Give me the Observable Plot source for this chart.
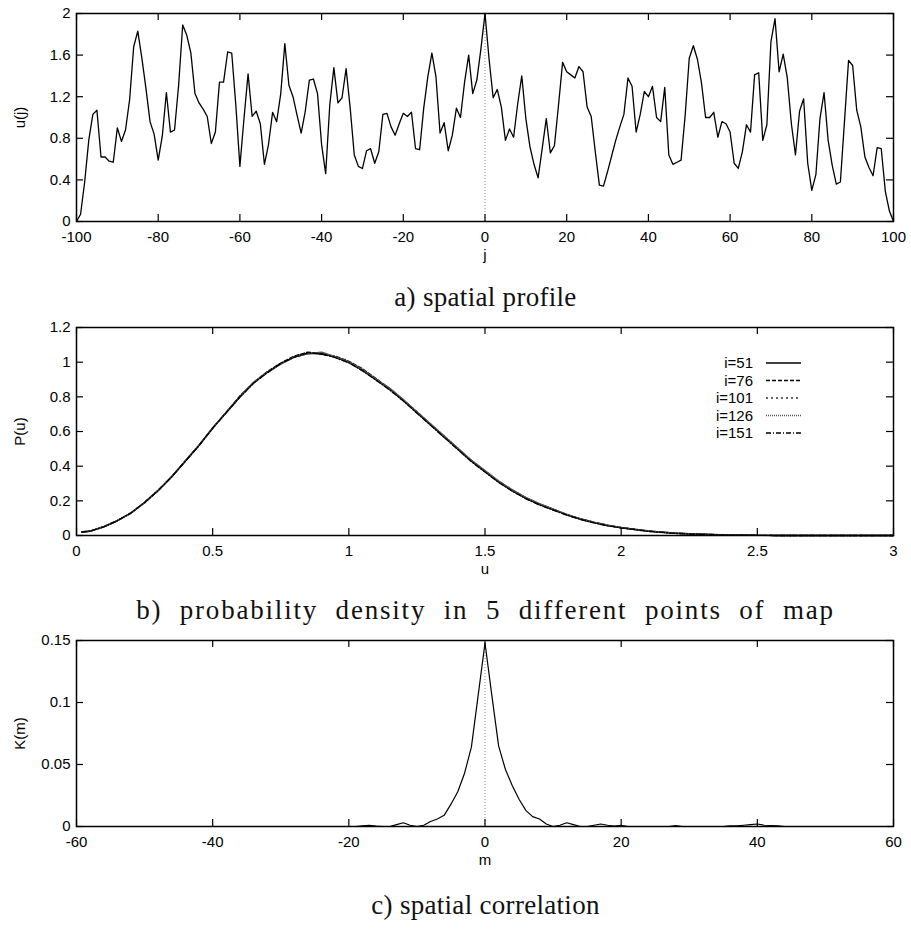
<!DOCTYPE html>
<html>
<head>
<meta charset="utf-8">
<script src="https://cdn.jsdelivr.net/npm/d3@7"></script>
<script src="https://cdn.jsdelivr.net/npm/@observablehq/plot@0.6"></script>
<style>
  html, body { margin: 0; padding: 0; background: white; }
  #wrap { position: relative; width: 911px; height: 942px; background: white; }
  .panel { position: absolute; left: 0; }
  .cap { position: absolute; left: 30px; width: 911px; text-align: center;
         font-family: "Liberation Serif", "DejaVu Serif", serif; font-size: 27px;
         line-height: 32px; color: #111; letter-spacing: 0.3px; white-space: nowrap; }
  .cap.wide { letter-spacing: 1.8px; word-spacing: 9px; }
</style>
</head>
<body>
<div id="wrap">
  <div id="pa" class="panel" style="top:0px"></div>
  <div class="cap" style="top:281px">a) spatial profile</div>
  <div id="pb" class="panel" style="top:315px"></div>
  <div class="cap wide" style="top:594px">b) probability density in 5 different points of map</div>
  <div id="pc" class="panel" style="top:628px"></div>
  <div class="cap" style="top:889px">c) spatial correlation</div>
</div>
<script>
// ---------- Panel a: spatial profile ----------
const jValues = d3.range(-100, 101);
const uValues = [
  0, 0.07, 0.38, 0.78, 1.03, 1.07, 0.62, 0.62, 0.58, 0.57,
  0.90, 0.77, 0.88, 1.17, 1.68, 1.83, 1.57, 1.28, 0.96, 0.84,
  0.59, 0.82, 1.24, 0.86, 0.88, 1.31, 1.89, 1.79, 1.62, 1.23,
  1.14, 1.08, 1.01, 0.75, 0.86, 1.34, 1.34, 1.63, 1.62, 1.12,
  0.53, 0.99, 1.42, 1.01, 1.06, 0.94, 0.55, 0.74, 1.05, 0.96,
  1.23, 1.71, 1.31, 1.20, 1.02, 0.85, 1.06, 1.36, 1.37, 1.23,
  0.74, 0.46, 1.12, 1.48, 1.14, 1.19, 1.47, 1.09, 0.64, 0.53,
  0.51, 0.68, 0.70, 0.56, 0.67, 1.03, 1.04, 0.91, 0.83, 0.94,
  1.04, 1.01, 1.05, 0.70, 0.69, 1.09, 1.39, 1.62, 1.39, 0.85,
  0.95, 0.68, 0.83, 1.09, 1.00, 1.34, 1.60, 1.23, 1.36, 1.66,
  2.00,
  1.56, 1.19, 1.27, 1.10, 0.78, 0.89, 0.81, 1.13, 1.40, 0.99,
  0.72, 0.55, 0.42, 0.70, 0.99, 0.66, 0.73, 1.12, 1.53, 1.44,
  1.41, 1.38, 1.49, 1.44, 1.10, 1.01, 0.67, 0.35, 0.34, 0.48,
  0.63, 0.78, 0.91, 1.03, 1.38, 1.30, 0.86, 1.03, 1.25, 1.20,
  1.30, 1.00, 0.96, 1.29, 0.64, 0.55, 0.57, 0.59, 1.02, 1.57,
  1.69, 1.56, 1.33, 1.00, 1.00, 1.05, 0.81, 0.96, 0.94, 0.86,
  0.56, 0.51, 0.67, 0.93, 0.86, 1.41, 1.43, 0.78, 0.93, 1.73,
  1.95, 1.44, 1.61, 1.38, 0.94, 0.64, 1.06, 1.18, 0.56, 0.30,
  0.45, 0.99, 1.24, 0.78, 0.54, 0.36, 0.38, 0.96, 1.55, 1.50,
  1.07, 0.91, 0.62, 0.52, 0.44, 0.71, 0.70, 0.29, 0.10, 0
];
const xTicksA = [-100, -80, -60, -40, -20, 0, 20, 40, 60, 80, 100];
const yTicksA = [0, 0.4, 0.8, 1.2, 1.6, 2];

// ---------- Panel b: probability density ----------
const uGrid = [0.02,0.05,0.1,0.15,0.2,0.25,0.3,0.35,0.4,0.45,0.5,0.55,0.6,0.65,0.7,0.75,0.8,0.85,0.9,0.95,
               1.0,1.05,1.1,1.15,1.2,1.25,1.3,1.35,1.4,1.45,1.5,1.55,1.6,1.65,1.7,1.75,1.8,1.85,1.9,1.95,
               2.0,2.1,2.2,2.3,2.4,2.5,2.6,2.8,3.0];
const p51  = [0.02,0.025,0.05,0.085,0.13,0.19,0.26,0.34,0.43,0.52,0.62,0.71,0.80,0.88,0.94,0.99,1.03,1.05,1.05,1.03,
              1.00,0.955,0.90,0.845,0.78,0.71,0.64,0.57,0.50,0.43,0.37,0.31,0.26,0.215,0.18,0.15,0.12,0.095,0.075,0.058,
              0.045,0.025,0.013,0.007,0.003,0.001,0,0,0];
const p76  = [0.022,0.026,0.052,0.087,0.128,0.192,0.262,0.338,0.432,0.522,0.618,0.712,0.805,0.882,0.945,0.995,1.035,1.058,1.045,1.035,
              1.005,0.962,0.905,0.848,0.782,0.714,0.642,0.572,0.502,0.432,0.372,0.312,0.262,0.218,0.182,0.152,0.121,0.096,0.076,0.059,
              0.046,0.026,0.013,0.007,0.003,0.001,0,0,0];
const p101 = [0.019,0.024,0.049,0.084,0.131,0.188,0.258,0.342,0.428,0.518,0.622,0.708,0.798,0.878,0.938,0.992,1.028,1.052,1.055,1.028,
              0.998,0.952,0.898,0.842,0.778,0.708,0.638,0.568,0.498,0.428,0.368,0.308,0.258,0.214,0.178,0.148,0.119,0.094,0.074,0.057,
              0.044,0.024,0.012,0.006,0.003,0.001,0,0,0];
const p126 = [0.021,0.025,0.051,0.086,0.129,0.191,0.261,0.341,0.431,0.521,0.621,0.711,0.802,0.884,0.942,0.988,1.032,1.048,1.058,1.032,
              1.002,0.958,0.902,0.85,0.785,0.712,0.645,0.575,0.505,0.435,0.375,0.315,0.264,0.22,0.184,0.153,0.122,0.097,0.077,0.06,
              0.046,0.026,0.014,0.007,0.003,0.001,0,0,0];
const p151 = [0.02,0.025,0.05,0.085,0.13,0.19,0.259,0.339,0.429,0.519,0.619,0.709,0.799,0.879,0.939,0.993,1.029,1.054,1.048,1.026,
              0.996,0.95,0.896,0.84,0.776,0.706,0.636,0.566,0.496,0.426,0.366,0.306,0.256,0.212,0.176,0.147,0.118,0.093,0.073,0.056,
              0.044,0.024,0.012,0.006,0.002,0.001,0,0,0];
const seriesNames = ["i=51", "i=76", "i=101", "i=126", "i=151"];
const seriesValues = [p51, p76, p101, p126, p151];
const seriesDash = ["none", "4,2", "2,3", "1,1", "5,2,1,2"];
const seriesStroke = ["#000", "#000", "#333", "#555", "#000"];
const xTicksB = [0, 0.5, 1, 1.5, 2, 2.5, 3];
const yTicksB = [0, 0.2, 0.4, 0.6, 0.8, 1, 1.2];

// ---------- Panel c: spatial correlation ----------
const mValues = d3.range(-45, 46);
const kValues = [
  0,0,0,0,0,0,0,0,0,0,0,0,0,0,0,0,0,0,0,0,0,0,0,0,0,
  0, 0, 0.0005, 0.001, 0.0003, 0, 0, 0.0015, 0.003, 0.001,
  0, 0.001, 0.004, 0.006, 0.009, 0.018, 0.028, 0.043, 0.064, 0.106,
  0.148,
  0.106, 0.065, 0.046, 0.033, 0.022, 0.013, 0.008, 0.006, 0.002, 0,
  0.001, 0.003, 0.0015, 0, 0, 0.001, 0.002, 0.001, 0.0003, 0.001,
  0, 0, 0, 0, 0, 0, 0, 0.0008, 0, 0,
  0, 0, 0, 0, 0, 0.0005, 0.0005, 0.001, 0.0015, 0.002,
  0.001, 0.0008, 0.0005, 0, 0
];
const xTicksC = [-60, -40, -20, 0, 20, 40, 60];
const yTicksC = [0, 0.05, 0.1, 0.15];

// ---------- helpers ----------
const W = 911, ML = 76, MR = 18, MT = 12, MB = 44;
const fmt = d => String(d);
const TICK = 7;

function frameTicks(xt, yt, innerW, innerH) {
  return [
    Plot.ruleX(xt, {insetTop: innerH - TICK, stroke: "black", strokeWidth: 1.2}),
    Plot.ruleX(xt, {insetBottom: innerH - TICK, stroke: "black", strokeWidth: 1.2}),
    Plot.ruleY(yt, {insetRight: innerW - TICK, stroke: "black", strokeWidth: 1.2}),
    Plot.ruleY(yt, {insetLeft: innerW - TICK, stroke: "black", strokeWidth: 1.2})
  ];
}

function makePlot({height, marginTop, xDomain, yDomain, xt, yt, xLabel, yLabel, marks}) {
  const innerW = W - ML - MR;
  const innerH = height - marginTop - MB;
  return Plot.plot({
    width: W, height,
    marginLeft: ML, marginRight: MR, marginTop, marginBottom: MB,
    style: {fontFamily: "'Liberation Sans', Arial, sans-serif", fontSize: "15px", color: "black", background: "transparent", overflow: "visible"},
    x: {domain: xDomain, ticks: xt, tickFormat: fmt, tickSize: 0, tickPadding: 10,
        label: xLabel, labelAnchor: "center", labelOffset: 38, labelArrow: false},
    y: {domain: yDomain, ticks: yt, tickFormat: fmt, tickSize: 0, tickPadding: 6,
        label: yLabel, labelAnchor: "center", labelOffset: 62, labelArrow: false},
    marks: [
      ...marks,
      ...frameTicks(xt, yt, innerW, innerH),
      Plot.frame({stroke: "black", strokeWidth: 1.5})
    ]
  });
}

// Panel a
const dataA = jValues.map((j, i) => ({j, u: uValues[i]}));
document.getElementById("pa").append(makePlot({
  height: 265, marginTop: 13, xDomain: [-100, 100], yDomain: [0, 2],
  xt: xTicksA, yt: yTicksA, xLabel: "j", yLabel: "u(j)",
  marks: [
    Plot.ruleX([0], {stroke: "#888", strokeDasharray: "1,2", strokeWidth: 1}),
    Plot.line(dataA, {x: "j", y: "u", stroke: "black", strokeWidth: 1.3})
  ]
}));

// Panel b
const dataB = seriesNames.flatMap((name, s) => uGrid.map((u, i) => ({series: name, u, p: seriesValues[s][i]})));
document.getElementById("pb").append(makePlot({
  height: 264, marginTop: MT, xDomain: [0, 3], yDomain: [0, 1.2],
  xt: xTicksB, yt: yTicksB, xLabel: "u", yLabel: "P(u)",
  marks: seriesNames.map((name, s) =>
    Plot.line(dataB.filter(d => d.series === name), {x: "u", y: "p", stroke: seriesStroke[s],
      strokeWidth: 1.4, strokeDasharray: seriesDash[s] === "none" ? null : seriesDash[s]}))
}));

// legend for panel b
(function () {
  const host = document.getElementById("pb");
  host.style.width = W + "px";
  const svg = d3.select(host).append("svg")
    .attr("width", 120).attr("height", 95)
    .style("position", "absolute").style("left", "690px").style("top", "38px")
    .style("font-family", "'Liberation Sans', Arial, sans-serif").style("font-size", "15px");
  const rows = svg.selectAll("g").data(seriesNames).join("g")
    .attr("transform", (d, i) => `translate(0, ${10 + i * 17.5})`);
  rows.append("text").attr("x", 63).attr("y", 0).attr("dy", "0.35em")
    .attr("text-anchor", "end").text(d => d);
  rows.append("line").attr("x1", 76).attr("x2", 111).attr("y1", 0).attr("y2", 0)
    .attr("stroke", (d, i) => seriesStroke[i]).attr("stroke-width", 1.3)
    .attr("stroke-dasharray", (d, i) => seriesDash[i] === "none" ? null : seriesDash[i]);
})();

// Panel c
const dataC = mValues.map((m, i) => ({m, k: kValues[i]}));
document.getElementById("pc").append(makePlot({
  height: 242, marginTop: MT, xDomain: [-60, 60], yDomain: [0, 0.15],
  xt: xTicksC, yt: yTicksC, xLabel: "m", yLabel: "K(m)",
  marks: [
    Plot.ruleX([0], {stroke: "#888", strokeDasharray: "1,2", strokeWidth: 1}),
    Plot.line(dataC, {x: "m", y: "k", stroke: "black", strokeWidth: 1.2})
  ]
}));
</script>
</body>
</html>
